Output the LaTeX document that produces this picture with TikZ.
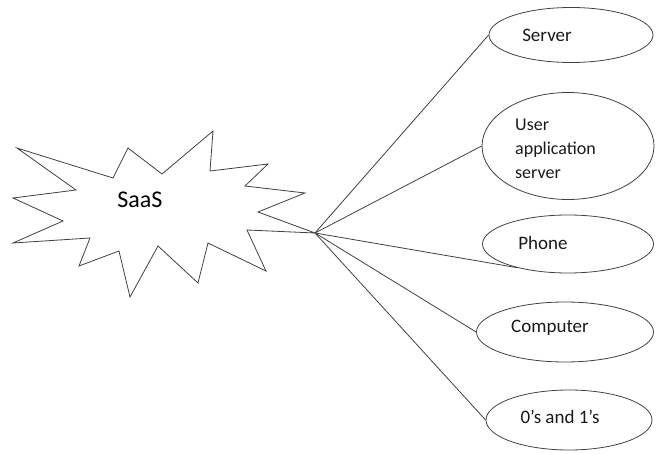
\documentclass[tikz,border=0pt]{standalone}
\usepackage{fontspec}
\setmainfont{Carlito}
\usetikzlibrary{shapes.geometric}
\begin{document}
\begin{tikzpicture}[x=1pt,y=-1pt,
  ln/.style={draw=black!75,line width=0.8pt},
  oval/.style={ellipse,ln,inner sep=0pt},
  txt/.style={font=\fontsize{19}{24}\selectfont,text=black!90,inner sep=0pt}]
\useasboundingbox (0,0) rectangle (656,454);
% starburst
\draw[ln,line join=miter] (17,148) -- (113,178) -- (128,148) -- (162,174) -- (213,131) -- (210,171)
  -- (268,164) -- (245,186) -- (305,193) -- (258,212) -- (315,233) -- (247,230)
  -- (266,271) -- (208,243) -- (198,283) -- (158,246) -- (130,297) -- (119,251)
  -- (79,266) -- (90,238) -- (13,243) -- (63,221) -- (13,198) -- (76,190) -- cycle;
\coordinate (hub) at (315,233);
\node[font=\fontsize{24}{29}\selectfont,inner sep=0pt] (saas) at (140,200) {SaaS};
% ellipses
\node[oval,minimum width=164,minimum height=55] (server) at (571,35) {};
\node[txt] (tserver) at (547,35) {Server};
\node[oval,minimum width=172,minimum height=107] (uas) at (568,146) {};
\node[txt,font=\fontsize{18}{24}\selectfont,align=left,anchor=west] (tuas) at (515,149) {User\\application\\server};
\node[oval,minimum width=171,minimum height=58] (phone) at (568,244) {};
\node[txt] (tphone) at (543,243) {Phone};
\node[oval,minimum width=177,minimum height=60] (comp) at (565,332) {};
\node[txt] (tcomp) at (550,328) {Computer};
\node[oval,minimum width=166,minimum height=60] (bits) at (569,420) {};
\node[txt] (tbits) at (560,417) {0’s and 1’s};
% connectors
\draw[ln] (hub) -- (server.west);
\draw[ln] (hub) -- (uas.west);
\draw[ln] (hub) -- (phone.205);
\draw[ln] (hub) -- (comp.west);
\draw[ln] (hub) -- (bits.west);
\end{tikzpicture}
\end{document}
